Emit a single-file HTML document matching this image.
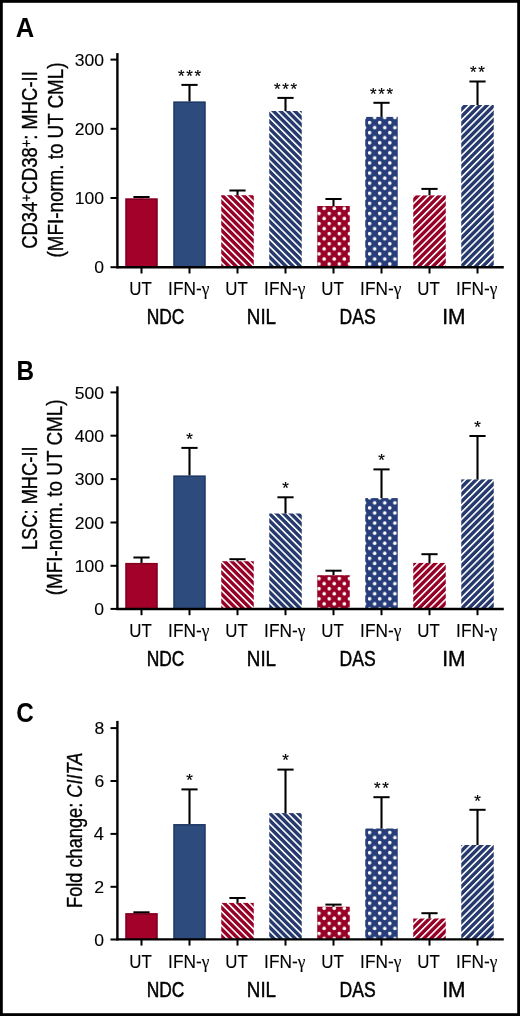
<!DOCTYPE html>
<html><head><meta charset="utf-8"><title>Figure</title><style>html,body{margin:0;padding:0;background:#fff;overflow:hidden;}svg{display:block;will-change:transform;}</style></head>
<body><svg width="520" height="1016" viewBox="0 0 520 1016" font-family="Liberation Sans, sans-serif" fill="#000">
<rect x="0" y="0" width="520" height="1016" fill="#fff"/>
<defs><pattern id="nilR0" patternUnits="userSpaceOnUse" x="-9.568" width="5.0417" height="5.0417" patternTransform="rotate(-45)"><rect width="5.0417" height="5.0417" fill="rgb(150,0,38)"/><rect width="1.6" height="5.0417" fill="#fff"/></pattern><pattern id="nilB0" patternUnits="userSpaceOnUse" x="-9.568" width="5.0417" height="5.0417" patternTransform="rotate(-45)"><rect width="5.0417" height="5.0417" fill="rgb(39,58,110)"/><rect width="1.6" height="5.0417" fill="#fff"/></pattern><pattern id="imR0" patternUnits="userSpaceOnUse" x="2.028" width="5.0417" height="5.0417" patternTransform="rotate(45)"><rect width="5.0417" height="5.0417" fill="rgb(150,0,38)"/><rect width="1.6" height="5.0417" fill="#fff"/></pattern><pattern id="imB0" patternUnits="userSpaceOnUse" x="2.028" width="5.0417" height="5.0417" patternTransform="rotate(45)"><rect width="5.0417" height="5.0417" fill="rgb(39,58,110)"/><rect width="1.6" height="5.0417" fill="#fff"/></pattern><pattern id="nilR1" patternUnits="userSpaceOnUse" x="-9.568" width="5.0417" height="5.0417" patternTransform="rotate(-45)"><rect width="5.0417" height="5.0417" fill="rgb(150,0,38)"/><rect width="1.6" height="5.0417" fill="#fff"/></pattern><pattern id="nilB1" patternUnits="userSpaceOnUse" x="-9.568" width="5.0417" height="5.0417" patternTransform="rotate(-45)"><rect width="5.0417" height="5.0417" fill="rgb(39,58,110)"/><rect width="1.6" height="5.0417" fill="#fff"/></pattern><pattern id="imR1" patternUnits="userSpaceOnUse" x="2.028" width="5.0417" height="5.0417" patternTransform="rotate(45)"><rect width="5.0417" height="5.0417" fill="rgb(150,0,38)"/><rect width="1.6" height="5.0417" fill="#fff"/></pattern><pattern id="imB1" patternUnits="userSpaceOnUse" x="2.028" width="5.0417" height="5.0417" patternTransform="rotate(45)"><rect width="5.0417" height="5.0417" fill="rgb(39,58,110)"/><rect width="1.6" height="5.0417" fill="#fff"/></pattern><pattern id="nilR2" patternUnits="userSpaceOnUse" x="-9.568" width="5.0417" height="5.0417" patternTransform="rotate(-45)"><rect width="5.0417" height="5.0417" fill="rgb(150,0,38)"/><rect width="1.6" height="5.0417" fill="#fff"/></pattern><pattern id="nilB2" patternUnits="userSpaceOnUse" x="-9.568" width="5.0417" height="5.0417" patternTransform="rotate(-45)"><rect width="5.0417" height="5.0417" fill="rgb(39,58,110)"/><rect width="1.6" height="5.0417" fill="#fff"/></pattern><pattern id="imR2" patternUnits="userSpaceOnUse" x="2.028" width="5.0417" height="5.0417" patternTransform="rotate(45)"><rect width="5.0417" height="5.0417" fill="rgb(150,0,38)"/><rect width="1.6" height="5.0417" fill="#fff"/></pattern><pattern id="imB2" patternUnits="userSpaceOnUse" x="2.028" width="5.0417" height="5.0417" patternTransform="rotate(45)"><rect width="5.0417" height="5.0417" fill="rgb(39,58,110)"/><rect width="1.6" height="5.0417" fill="#fff"/></pattern><pattern id="dasR0" patternUnits="userSpaceOnUse" x="316.575" y="210.975" width="10.1" height="10.1"><rect width="10.1" height="10.1" fill="rgb(152,0,38)"/><circle cx="2.525" cy="2.525" r="1.75" fill="#fff"/><circle cx="7.574999999999999" cy="7.574999999999999" r="1.75" fill="#fff"/></pattern><pattern id="dasB0" patternUnits="userSpaceOnUse" x="316.575" y="210.975" width="10.1" height="10.1"><rect width="10.1" height="10.1" fill="rgb(40,62,122)"/><circle cx="2.525" cy="2.525" r="1.75" fill="#fff"/><circle cx="7.574999999999999" cy="7.574999999999999" r="1.75" fill="#fff"/></pattern><pattern id="dasR1" patternUnits="userSpaceOnUse" x="316.575" y="576.075" width="10.1" height="10.1"><rect width="10.1" height="10.1" fill="rgb(152,0,38)"/><circle cx="2.525" cy="2.525" r="1.75" fill="#fff"/><circle cx="7.574999999999999" cy="7.574999999999999" r="1.75" fill="#fff"/></pattern><pattern id="dasB1" patternUnits="userSpaceOnUse" x="316.575" y="576.075" width="10.1" height="10.1"><rect width="10.1" height="10.1" fill="rgb(40,62,122)"/><circle cx="2.525" cy="2.525" r="1.75" fill="#fff"/><circle cx="7.574999999999999" cy="7.574999999999999" r="1.75" fill="#fff"/></pattern><pattern id="dasR2" patternUnits="userSpaceOnUse" x="316.575" y="910.775" width="10.1" height="10.1"><rect width="10.1" height="10.1" fill="rgb(152,0,38)"/><circle cx="2.525" cy="2.525" r="1.75" fill="#fff"/><circle cx="7.574999999999999" cy="7.574999999999999" r="1.75" fill="#fff"/></pattern><pattern id="dasB2" patternUnits="userSpaceOnUse" x="316.575" y="910.775" width="10.1" height="10.1"><rect width="10.1" height="10.1" fill="rgb(40,62,122)"/><circle cx="2.525" cy="2.525" r="1.75" fill="#fff"/><circle cx="7.574999999999999" cy="7.574999999999999" r="1.75" fill="#fff"/></pattern></defs><rect x="125.25" y="198.3" width="32.5" height="68.9" fill="#a3002a"/><rect x="126.2" y="199.25" width="30.6" height="67.95" fill="none" stroke="#55001a" stroke-width="1.1" stroke-opacity="0.55"/><line x1="141.5" y1="197" x2="141.5" y2="198.3" stroke="#000" stroke-width="2.1"/><line x1="133.4" y1="197" x2="149.6" y2="197" stroke="#000" stroke-width="2"/><rect x="173.25" y="101.4" width="32.5" height="165.8" fill="#2d4b7d"/><rect x="174.2" y="102.35" width="30.6" height="164.85" fill="none" stroke="#15254a" stroke-width="1.1" stroke-opacity="0.55"/><line x1="189.5" y1="84.9" x2="189.5" y2="101.4" stroke="#000" stroke-width="2.1"/><line x1="181.4" y1="84.9" x2="197.6" y2="84.9" stroke="#000" stroke-width="2"/><rect x="221.25" y="195.2" width="32.5" height="72" fill="url(#nilR0)"/><line x1="237.5" y1="190.5" x2="237.5" y2="195.2" stroke="#000" stroke-width="2.1"/><line x1="229.4" y1="190.5" x2="245.6" y2="190.5" stroke="#000" stroke-width="2"/><rect x="269.25" y="111" width="32.5" height="156.2" fill="url(#nilB0)"/><line x1="285.5" y1="97.9" x2="285.5" y2="111" stroke="#000" stroke-width="2.1"/><line x1="277.4" y1="97.9" x2="293.6" y2="97.9" stroke="#000" stroke-width="2"/><rect x="317.25" y="206" width="32.5" height="61.2" fill="url(#dasR0)"/><line x1="333.5" y1="199" x2="333.5" y2="206" stroke="#000" stroke-width="2.1"/><line x1="325.4" y1="199" x2="341.6" y2="199" stroke="#000" stroke-width="2"/><rect x="365.25" y="116.9" width="32.5" height="150.3" fill="url(#dasB0)"/><line x1="381.5" y1="102.8" x2="381.5" y2="116.9" stroke="#000" stroke-width="2.1"/><line x1="373.4" y1="102.8" x2="389.6" y2="102.8" stroke="#000" stroke-width="2"/><rect x="413.25" y="195.4" width="32.5" height="71.8" fill="url(#imR0)"/><line x1="429.5" y1="188.9" x2="429.5" y2="195.4" stroke="#000" stroke-width="2.1"/><line x1="421.4" y1="188.9" x2="437.6" y2="188.9" stroke="#000" stroke-width="2"/><rect x="461.25" y="105" width="32.5" height="162.2" fill="url(#imB0)"/><line x1="477.5" y1="81.5" x2="477.5" y2="105" stroke="#000" stroke-width="2.1"/><line x1="469.4" y1="81.5" x2="485.6" y2="81.5" stroke="#000" stroke-width="2"/><text font-size="100" stroke="#000" stroke-width="1.2" transform="matrix(0.169,0,0,0.169,177.913,81.631)">*</text><text font-size="100" stroke="#000" stroke-width="1.2" transform="matrix(0.169,0,0,0.169,186.213,81.631)">*</text><text font-size="100" stroke="#000" stroke-width="1.2" transform="matrix(0.169,0,0,0.169,194.513,81.631)">*</text><text font-size="100" stroke="#000" stroke-width="1.2" transform="matrix(0.169,0,0,0.169,273.913,94.631)">*</text><text font-size="100" stroke="#000" stroke-width="1.2" transform="matrix(0.169,0,0,0.169,282.213,94.631)">*</text><text font-size="100" stroke="#000" stroke-width="1.2" transform="matrix(0.169,0,0,0.169,290.513,94.631)">*</text><text font-size="100" stroke="#000" stroke-width="1.2" transform="matrix(0.169,0,0,0.169,369.913,99.531)">*</text><text font-size="100" stroke="#000" stroke-width="1.2" transform="matrix(0.169,0,0,0.169,378.213,99.531)">*</text><text font-size="100" stroke="#000" stroke-width="1.2" transform="matrix(0.169,0,0,0.169,386.513,99.531)">*</text><text font-size="100" stroke="#000" stroke-width="1.2" transform="matrix(0.169,0,0,0.169,470.063,78.231)">*</text><text font-size="100" stroke="#000" stroke-width="1.2" transform="matrix(0.169,0,0,0.169,478.363,78.231)">*</text><line x1="117.4" y1="53.1" x2="117.4" y2="268.3" stroke="#000" stroke-width="2.4"/><line x1="116.3" y1="267.3" x2="503.8" y2="267.3" stroke="#000" stroke-width="2.4"/><line x1="110.5" y1="59.6" x2="117" y2="59.6" stroke="#000" stroke-width="2"/><text font-size="100" stroke="#000" stroke-width="0.57" transform="matrix(0.176,0,0,0.17,74.788,65.78)" >300</text><line x1="110.5" y1="128.8" x2="117" y2="128.8" stroke="#000" stroke-width="2"/><text font-size="100" stroke="#000" stroke-width="0.57" transform="matrix(0.176,0,0,0.17,74.788,134.98)" >200</text><line x1="110.5" y1="198" x2="117" y2="198" stroke="#000" stroke-width="2"/><text font-size="100" stroke="#000" stroke-width="0.57" transform="matrix(0.176,0,0,0.17,74.788,204.18)" >100</text><line x1="110.5" y1="267.2" x2="117" y2="267.2" stroke="#000" stroke-width="2"/><text font-size="100" stroke="#000" stroke-width="0.57" transform="matrix(0.176,0,0,0.17,94.272,273.38)" >0</text><line x1="141.5" y1="267.2" x2="141.5" y2="273.5" stroke="#000" stroke-width="2"/><line x1="189.5" y1="267.2" x2="189.5" y2="273.5" stroke="#000" stroke-width="2"/><line x1="237.5" y1="267.2" x2="237.5" y2="273.5" stroke="#000" stroke-width="2"/><line x1="285.5" y1="267.2" x2="285.5" y2="273.5" stroke="#000" stroke-width="2"/><line x1="333.5" y1="267.2" x2="333.5" y2="273.5" stroke="#000" stroke-width="2"/><line x1="381.5" y1="267.2" x2="381.5" y2="273.5" stroke="#000" stroke-width="2"/><line x1="429.5" y1="267.2" x2="429.5" y2="273.5" stroke="#000" stroke-width="2"/><line x1="477.5" y1="267.2" x2="477.5" y2="273.5" stroke="#000" stroke-width="2"/><text font-size="100" stroke="#000" stroke-width="0.591" transform="matrix(0.169,0,0,0.178,129.347,295)" >UT</text><text font-size="100" stroke="#000" stroke-width="0.578" transform="matrix(0.173,0,0,0.178,168.092,295)" >IFN-<tspan font-family="Liberation Serif">γ</tspan></text><text font-size="100" stroke="#000" stroke-width="0.591" transform="matrix(0.169,0,0,0.178,225.347,295)" >UT</text><text font-size="100" stroke="#000" stroke-width="0.578" transform="matrix(0.173,0,0,0.178,264.092,295)" >IFN-<tspan font-family="Liberation Serif">γ</tspan></text><text font-size="100" stroke="#000" stroke-width="0.591" transform="matrix(0.169,0,0,0.178,321.347,295)" >UT</text><text font-size="100" stroke="#000" stroke-width="0.578" transform="matrix(0.173,0,0,0.178,360.092,295)" >IFN-<tspan font-family="Liberation Serif">γ</tspan></text><text font-size="100" stroke="#000" stroke-width="0.591" transform="matrix(0.169,0,0,0.178,417.347,295)" >UT</text><text font-size="100" stroke="#000" stroke-width="0.578" transform="matrix(0.173,0,0,0.178,456.092,295)" >IFN-<tspan font-family="Liberation Serif">γ</tspan></text><text font-size="100" stroke="#000" stroke-width="2.299" transform="matrix(0.174,0,0,0.212,146.758,323.5)" >NDC</text><text font-size="100" stroke="#000" stroke-width="2.125" transform="matrix(0.188,0,0,0.212,246.844,323.5)" >NIL</text><text font-size="100" stroke="#000" stroke-width="2.271" transform="matrix(0.176,0,0,0.212,339.491,323.5)" >DAS</text><text font-size="100" stroke="#000" stroke-width="1.918" transform="matrix(0.209,0,0,0.212,442.223,323.5)" >IM</text><rect x="125.25" y="562.9" width="32.5" height="46" fill="#a3002a"/><rect x="126.2" y="563.85" width="30.6" height="45.05" fill="none" stroke="#55001a" stroke-width="1.1" stroke-opacity="0.55"/><line x1="141.5" y1="557.5" x2="141.5" y2="562.9" stroke="#000" stroke-width="2.1"/><line x1="133.4" y1="557.5" x2="149.6" y2="557.5" stroke="#000" stroke-width="2"/><rect x="173.25" y="475.4" width="32.5" height="133.5" fill="#2d4b7d"/><rect x="174.2" y="476.35" width="30.6" height="132.55" fill="none" stroke="#15254a" stroke-width="1.1" stroke-opacity="0.55"/><line x1="189.5" y1="447.9" x2="189.5" y2="475.4" stroke="#000" stroke-width="2.1"/><line x1="181.4" y1="447.9" x2="197.6" y2="447.9" stroke="#000" stroke-width="2"/><rect x="221.25" y="561.2" width="32.5" height="47.7" fill="url(#nilR1)"/><line x1="237.5" y1="559.2" x2="237.5" y2="561.2" stroke="#000" stroke-width="2.1"/><line x1="229.4" y1="559.2" x2="245.6" y2="559.2" stroke="#000" stroke-width="2"/><rect x="269.25" y="513.5" width="32.5" height="95.4" fill="url(#nilB1)"/><line x1="285.5" y1="497.3" x2="285.5" y2="513.5" stroke="#000" stroke-width="2.1"/><line x1="277.4" y1="497.3" x2="293.6" y2="497.3" stroke="#000" stroke-width="2"/><rect x="317.25" y="575.2" width="32.5" height="33.7" fill="url(#dasR1)"/><line x1="333.5" y1="570.7" x2="333.5" y2="575.2" stroke="#000" stroke-width="2.1"/><line x1="325.4" y1="570.7" x2="341.6" y2="570.7" stroke="#000" stroke-width="2"/><rect x="365.25" y="498.1" width="32.5" height="110.8" fill="url(#dasB1)"/><line x1="381.5" y1="469.4" x2="381.5" y2="498.1" stroke="#000" stroke-width="2.1"/><line x1="373.4" y1="469.4" x2="389.6" y2="469.4" stroke="#000" stroke-width="2"/><rect x="413.25" y="562.9" width="32.5" height="46" fill="url(#imR1)"/><line x1="429.5" y1="554.2" x2="429.5" y2="562.9" stroke="#000" stroke-width="2.1"/><line x1="421.4" y1="554.2" x2="437.6" y2="554.2" stroke="#000" stroke-width="2"/><rect x="461.25" y="479.4" width="32.5" height="129.5" fill="url(#imB1)"/><line x1="477.5" y1="436" x2="477.5" y2="479.4" stroke="#000" stroke-width="2.1"/><line x1="469.4" y1="436" x2="485.6" y2="436" stroke="#000" stroke-width="2"/><text font-size="100" stroke="#000" stroke-width="1.2" transform="matrix(0.169,0,0,0.169,186.213,444.631)">*</text><text font-size="100" stroke="#000" stroke-width="1.2" transform="matrix(0.169,0,0,0.169,282.213,494.031)">*</text><text font-size="100" stroke="#000" stroke-width="1.2" transform="matrix(0.169,0,0,0.169,378.213,466.131)">*</text><text font-size="100" stroke="#000" stroke-width="1.2" transform="matrix(0.169,0,0,0.169,474.213,432.731)">*</text><line x1="117.4" y1="386.3" x2="117.4" y2="610" stroke="#000" stroke-width="2.4"/><line x1="116.3" y1="609" x2="503.8" y2="609" stroke="#000" stroke-width="2.4"/><line x1="110.5" y1="392.4" x2="117" y2="392.4" stroke="#000" stroke-width="2"/><text font-size="100" stroke="#000" stroke-width="0.57" transform="matrix(0.176,0,0,0.17,74.788,398.58)" >500</text><line x1="110.5" y1="435.7" x2="117" y2="435.7" stroke="#000" stroke-width="2"/><text font-size="100" stroke="#000" stroke-width="0.57" transform="matrix(0.176,0,0,0.17,74.788,441.88)" >400</text><line x1="110.5" y1="479.1" x2="117" y2="479.1" stroke="#000" stroke-width="2"/><text font-size="100" stroke="#000" stroke-width="0.57" transform="matrix(0.176,0,0,0.17,74.788,485.28)" >300</text><line x1="110.5" y1="522.5" x2="117" y2="522.5" stroke="#000" stroke-width="2"/><text font-size="100" stroke="#000" stroke-width="0.57" transform="matrix(0.176,0,0,0.17,74.788,528.68)" >200</text><line x1="110.5" y1="565.8" x2="117" y2="565.8" stroke="#000" stroke-width="2"/><text font-size="100" stroke="#000" stroke-width="0.57" transform="matrix(0.176,0,0,0.17,74.788,571.98)" >100</text><line x1="110.5" y1="608.9" x2="117" y2="608.9" stroke="#000" stroke-width="2"/><text font-size="100" stroke="#000" stroke-width="0.57" transform="matrix(0.176,0,0,0.17,94.272,615.08)" >0</text><line x1="141.5" y1="608.9" x2="141.5" y2="615.2" stroke="#000" stroke-width="2"/><line x1="189.5" y1="608.9" x2="189.5" y2="615.2" stroke="#000" stroke-width="2"/><line x1="237.5" y1="608.9" x2="237.5" y2="615.2" stroke="#000" stroke-width="2"/><line x1="285.5" y1="608.9" x2="285.5" y2="615.2" stroke="#000" stroke-width="2"/><line x1="333.5" y1="608.9" x2="333.5" y2="615.2" stroke="#000" stroke-width="2"/><line x1="381.5" y1="608.9" x2="381.5" y2="615.2" stroke="#000" stroke-width="2"/><line x1="429.5" y1="608.9" x2="429.5" y2="615.2" stroke="#000" stroke-width="2"/><line x1="477.5" y1="608.9" x2="477.5" y2="615.2" stroke="#000" stroke-width="2"/><text font-size="100" stroke="#000" stroke-width="0.591" transform="matrix(0.169,0,0,0.178,129.347,637)" >UT</text><text font-size="100" stroke="#000" stroke-width="0.578" transform="matrix(0.173,0,0,0.178,168.092,637)" >IFN-<tspan font-family="Liberation Serif">γ</tspan></text><text font-size="100" stroke="#000" stroke-width="0.591" transform="matrix(0.169,0,0,0.178,225.347,637)" >UT</text><text font-size="100" stroke="#000" stroke-width="0.578" transform="matrix(0.173,0,0,0.178,264.092,637)" >IFN-<tspan font-family="Liberation Serif">γ</tspan></text><text font-size="100" stroke="#000" stroke-width="0.591" transform="matrix(0.169,0,0,0.178,321.347,637)" >UT</text><text font-size="100" stroke="#000" stroke-width="0.578" transform="matrix(0.173,0,0,0.178,360.092,637)" >IFN-<tspan font-family="Liberation Serif">γ</tspan></text><text font-size="100" stroke="#000" stroke-width="0.591" transform="matrix(0.169,0,0,0.178,417.347,637)" >UT</text><text font-size="100" stroke="#000" stroke-width="0.578" transform="matrix(0.173,0,0,0.178,456.092,637)" >IFN-<tspan font-family="Liberation Serif">γ</tspan></text><text font-size="100" stroke="#000" stroke-width="2.299" transform="matrix(0.174,0,0,0.212,146.758,665.5)" >NDC</text><text font-size="100" stroke="#000" stroke-width="2.125" transform="matrix(0.188,0,0,0.212,246.844,665.5)" >NIL</text><text font-size="100" stroke="#000" stroke-width="2.271" transform="matrix(0.176,0,0,0.212,339.491,665.5)" >DAS</text><text font-size="100" stroke="#000" stroke-width="1.918" transform="matrix(0.209,0,0,0.212,442.223,665.5)" >IM</text><rect x="125.25" y="913.1" width="32.5" height="26.2" fill="#a3002a"/><rect x="126.2" y="914.05" width="30.6" height="25.25" fill="none" stroke="#55001a" stroke-width="1.1" stroke-opacity="0.55"/><line x1="141.5" y1="912.3" x2="141.5" y2="913.1" stroke="#000" stroke-width="2.1"/><line x1="133.4" y1="912.3" x2="149.6" y2="912.3" stroke="#000" stroke-width="2"/><rect x="173.25" y="824" width="32.5" height="115.3" fill="#2d4b7d"/><rect x="174.2" y="824.95" width="30.6" height="114.35" fill="none" stroke="#15254a" stroke-width="1.1" stroke-opacity="0.55"/><line x1="189.5" y1="789.4" x2="189.5" y2="824" stroke="#000" stroke-width="2.1"/><line x1="181.4" y1="789.4" x2="197.6" y2="789.4" stroke="#000" stroke-width="2"/><rect x="221.25" y="902.9" width="32.5" height="36.4" fill="url(#nilR2)"/><line x1="237.5" y1="898" x2="237.5" y2="902.9" stroke="#000" stroke-width="2.1"/><line x1="229.4" y1="898" x2="245.6" y2="898" stroke="#000" stroke-width="2"/><rect x="269.25" y="813.1" width="32.5" height="126.2" fill="url(#nilB2)"/><line x1="285.5" y1="769.6" x2="285.5" y2="813.1" stroke="#000" stroke-width="2.1"/><line x1="277.4" y1="769.6" x2="293.6" y2="769.6" stroke="#000" stroke-width="2"/><rect x="317.25" y="906.7" width="32.5" height="32.6" fill="url(#dasR2)"/><line x1="333.5" y1="904.6" x2="333.5" y2="906.7" stroke="#000" stroke-width="2.1"/><line x1="325.4" y1="904.6" x2="341.6" y2="904.6" stroke="#000" stroke-width="2"/><rect x="365.25" y="828.5" width="32.5" height="110.8" fill="url(#dasB2)"/><line x1="381.5" y1="797.2" x2="381.5" y2="828.5" stroke="#000" stroke-width="2.1"/><line x1="373.4" y1="797.2" x2="389.6" y2="797.2" stroke="#000" stroke-width="2"/><rect x="413.25" y="918.5" width="32.5" height="20.8" fill="url(#imR2)"/><line x1="429.5" y1="913.2" x2="429.5" y2="918.5" stroke="#000" stroke-width="2.1"/><line x1="421.4" y1="913.2" x2="437.6" y2="913.2" stroke="#000" stroke-width="2"/><rect x="461.25" y="845" width="32.5" height="94.3" fill="url(#imB2)"/><line x1="477.5" y1="809.8" x2="477.5" y2="845" stroke="#000" stroke-width="2.1"/><line x1="469.4" y1="809.8" x2="485.6" y2="809.8" stroke="#000" stroke-width="2"/><text font-size="100" stroke="#000" stroke-width="1.2" transform="matrix(0.169,0,0,0.169,186.213,786.131)">*</text><text font-size="100" stroke="#000" stroke-width="1.2" transform="matrix(0.169,0,0,0.169,282.213,766.331)">*</text><text font-size="100" stroke="#000" stroke-width="1.2" transform="matrix(0.169,0,0,0.169,374.063,793.931)">*</text><text font-size="100" stroke="#000" stroke-width="1.2" transform="matrix(0.169,0,0,0.169,382.363,793.931)">*</text><text font-size="100" stroke="#000" stroke-width="1.2" transform="matrix(0.169,0,0,0.169,474.213,806.531)">*</text><line x1="117.4" y1="720.9" x2="117.4" y2="940.4" stroke="#000" stroke-width="2.4"/><line x1="116.3" y1="939.4" x2="503.8" y2="939.4" stroke="#000" stroke-width="2.4"/><line x1="110.5" y1="728.1" x2="117" y2="728.1" stroke="#000" stroke-width="2"/><text font-size="100" stroke="#000" stroke-width="0.57" transform="matrix(0.176,0,0,0.17,94.448,734.28)" >8</text><line x1="110.5" y1="781" x2="117" y2="781" stroke="#000" stroke-width="2"/><text font-size="100" stroke="#000" stroke-width="0.57" transform="matrix(0.176,0,0,0.17,94.448,787.18)" >6</text><line x1="110.5" y1="833.9" x2="117" y2="833.9" stroke="#000" stroke-width="2"/><text font-size="100" stroke="#000" stroke-width="0.546" transform="matrix(0.183,0,0,0.178,93.686,840.428)" >4</text><line x1="110.5" y1="886.8" x2="117" y2="886.8" stroke="#000" stroke-width="2"/><text font-size="100" stroke="#000" stroke-width="0.562" transform="matrix(0.178,0,0,0.173,94.32,893.15)" >2</text><line x1="110.5" y1="939.5" x2="117" y2="939.5" stroke="#000" stroke-width="2"/><text font-size="100" stroke="#000" stroke-width="0.57" transform="matrix(0.176,0,0,0.17,94.272,945.68)" >0</text><line x1="141.5" y1="939.3" x2="141.5" y2="945.6" stroke="#000" stroke-width="2"/><line x1="189.5" y1="939.3" x2="189.5" y2="945.6" stroke="#000" stroke-width="2"/><line x1="237.5" y1="939.3" x2="237.5" y2="945.6" stroke="#000" stroke-width="2"/><line x1="285.5" y1="939.3" x2="285.5" y2="945.6" stroke="#000" stroke-width="2"/><line x1="333.5" y1="939.3" x2="333.5" y2="945.6" stroke="#000" stroke-width="2"/><line x1="381.5" y1="939.3" x2="381.5" y2="945.6" stroke="#000" stroke-width="2"/><line x1="429.5" y1="939.3" x2="429.5" y2="945.6" stroke="#000" stroke-width="2"/><line x1="477.5" y1="939.3" x2="477.5" y2="945.6" stroke="#000" stroke-width="2"/><text font-size="100" stroke="#000" stroke-width="0.591" transform="matrix(0.169,0,0,0.178,129.347,967.9)" >UT</text><text font-size="100" stroke="#000" stroke-width="0.578" transform="matrix(0.173,0,0,0.178,168.092,967.9)" >IFN-<tspan font-family="Liberation Serif">γ</tspan></text><text font-size="100" stroke="#000" stroke-width="0.591" transform="matrix(0.169,0,0,0.178,225.347,967.9)" >UT</text><text font-size="100" stroke="#000" stroke-width="0.578" transform="matrix(0.173,0,0,0.178,264.092,967.9)" >IFN-<tspan font-family="Liberation Serif">γ</tspan></text><text font-size="100" stroke="#000" stroke-width="0.591" transform="matrix(0.169,0,0,0.178,321.347,967.9)" >UT</text><text font-size="100" stroke="#000" stroke-width="0.578" transform="matrix(0.173,0,0,0.178,360.092,967.9)" >IFN-<tspan font-family="Liberation Serif">γ</tspan></text><text font-size="100" stroke="#000" stroke-width="0.591" transform="matrix(0.169,0,0,0.178,417.347,967.9)" >UT</text><text font-size="100" stroke="#000" stroke-width="0.578" transform="matrix(0.173,0,0,0.178,456.092,967.9)" >IFN-<tspan font-family="Liberation Serif">γ</tspan></text><text font-size="100" stroke="#000" stroke-width="2.299" transform="matrix(0.174,0,0,0.212,146.758,996.5)" >NDC</text><text font-size="100" stroke="#000" stroke-width="2.125" transform="matrix(0.188,0,0,0.212,246.844,996.5)" >NIL</text><text font-size="100" stroke="#000" stroke-width="2.271" transform="matrix(0.176,0,0,0.212,339.491,996.5)" >DAS</text><text font-size="100" stroke="#000" stroke-width="1.918" transform="matrix(0.209,0,0,0.212,442.223,996.5)" >IM</text><text font-size="100" transform="matrix(0.256,0,0,0.272,15.832,37.3)" font-weight="bold">A</text><text font-size="100" transform="matrix(0.243,0,0,0.268,16.402,380)" font-weight="bold">B</text><text font-size="100" transform="matrix(0.243,0,0,0.272,16.328,722)" font-weight="bold">C</text><text font-size="100" stroke="#000" stroke-width="1.629" transform="matrix(0,-0.184,0.219,0,36.8,248.821)" >CD34<tspan font-size="70" dy="-28">+</tspan><tspan dy="28">CD38</tspan><tspan font-size="70" dy="-28">+</tspan><tspan dy="28">: MHC-II</tspan></text><text font-size="100" stroke="#000" stroke-width="1.592" transform="matrix(0,-0.188,0.22,0,62.5,257.43)" >(MFI-norm. to UT CML)</text><text font-size="100" stroke="#000" stroke-width="1.639" transform="matrix(0,-0.183,0.217,0,36.9,550.114)" >LSC: MHC-II</text><text font-size="100" stroke="#000" stroke-width="1.585" transform="matrix(0,-0.189,0.22,0,62.3,595.336)" >(MFI-norm. to UT CML)</text><text font-size="100" stroke="#000" stroke-width="1.646" transform="matrix(0,-0.182,0.225,0,82.3,907.958)" >Fold change: <tspan font-style="italic">CIITA</tspan></text>
<rect x="1.4" y="1.4" width="517.2" height="1013.2" fill="none" stroke="#000" stroke-width="2.8"/>
</svg></body></html>
